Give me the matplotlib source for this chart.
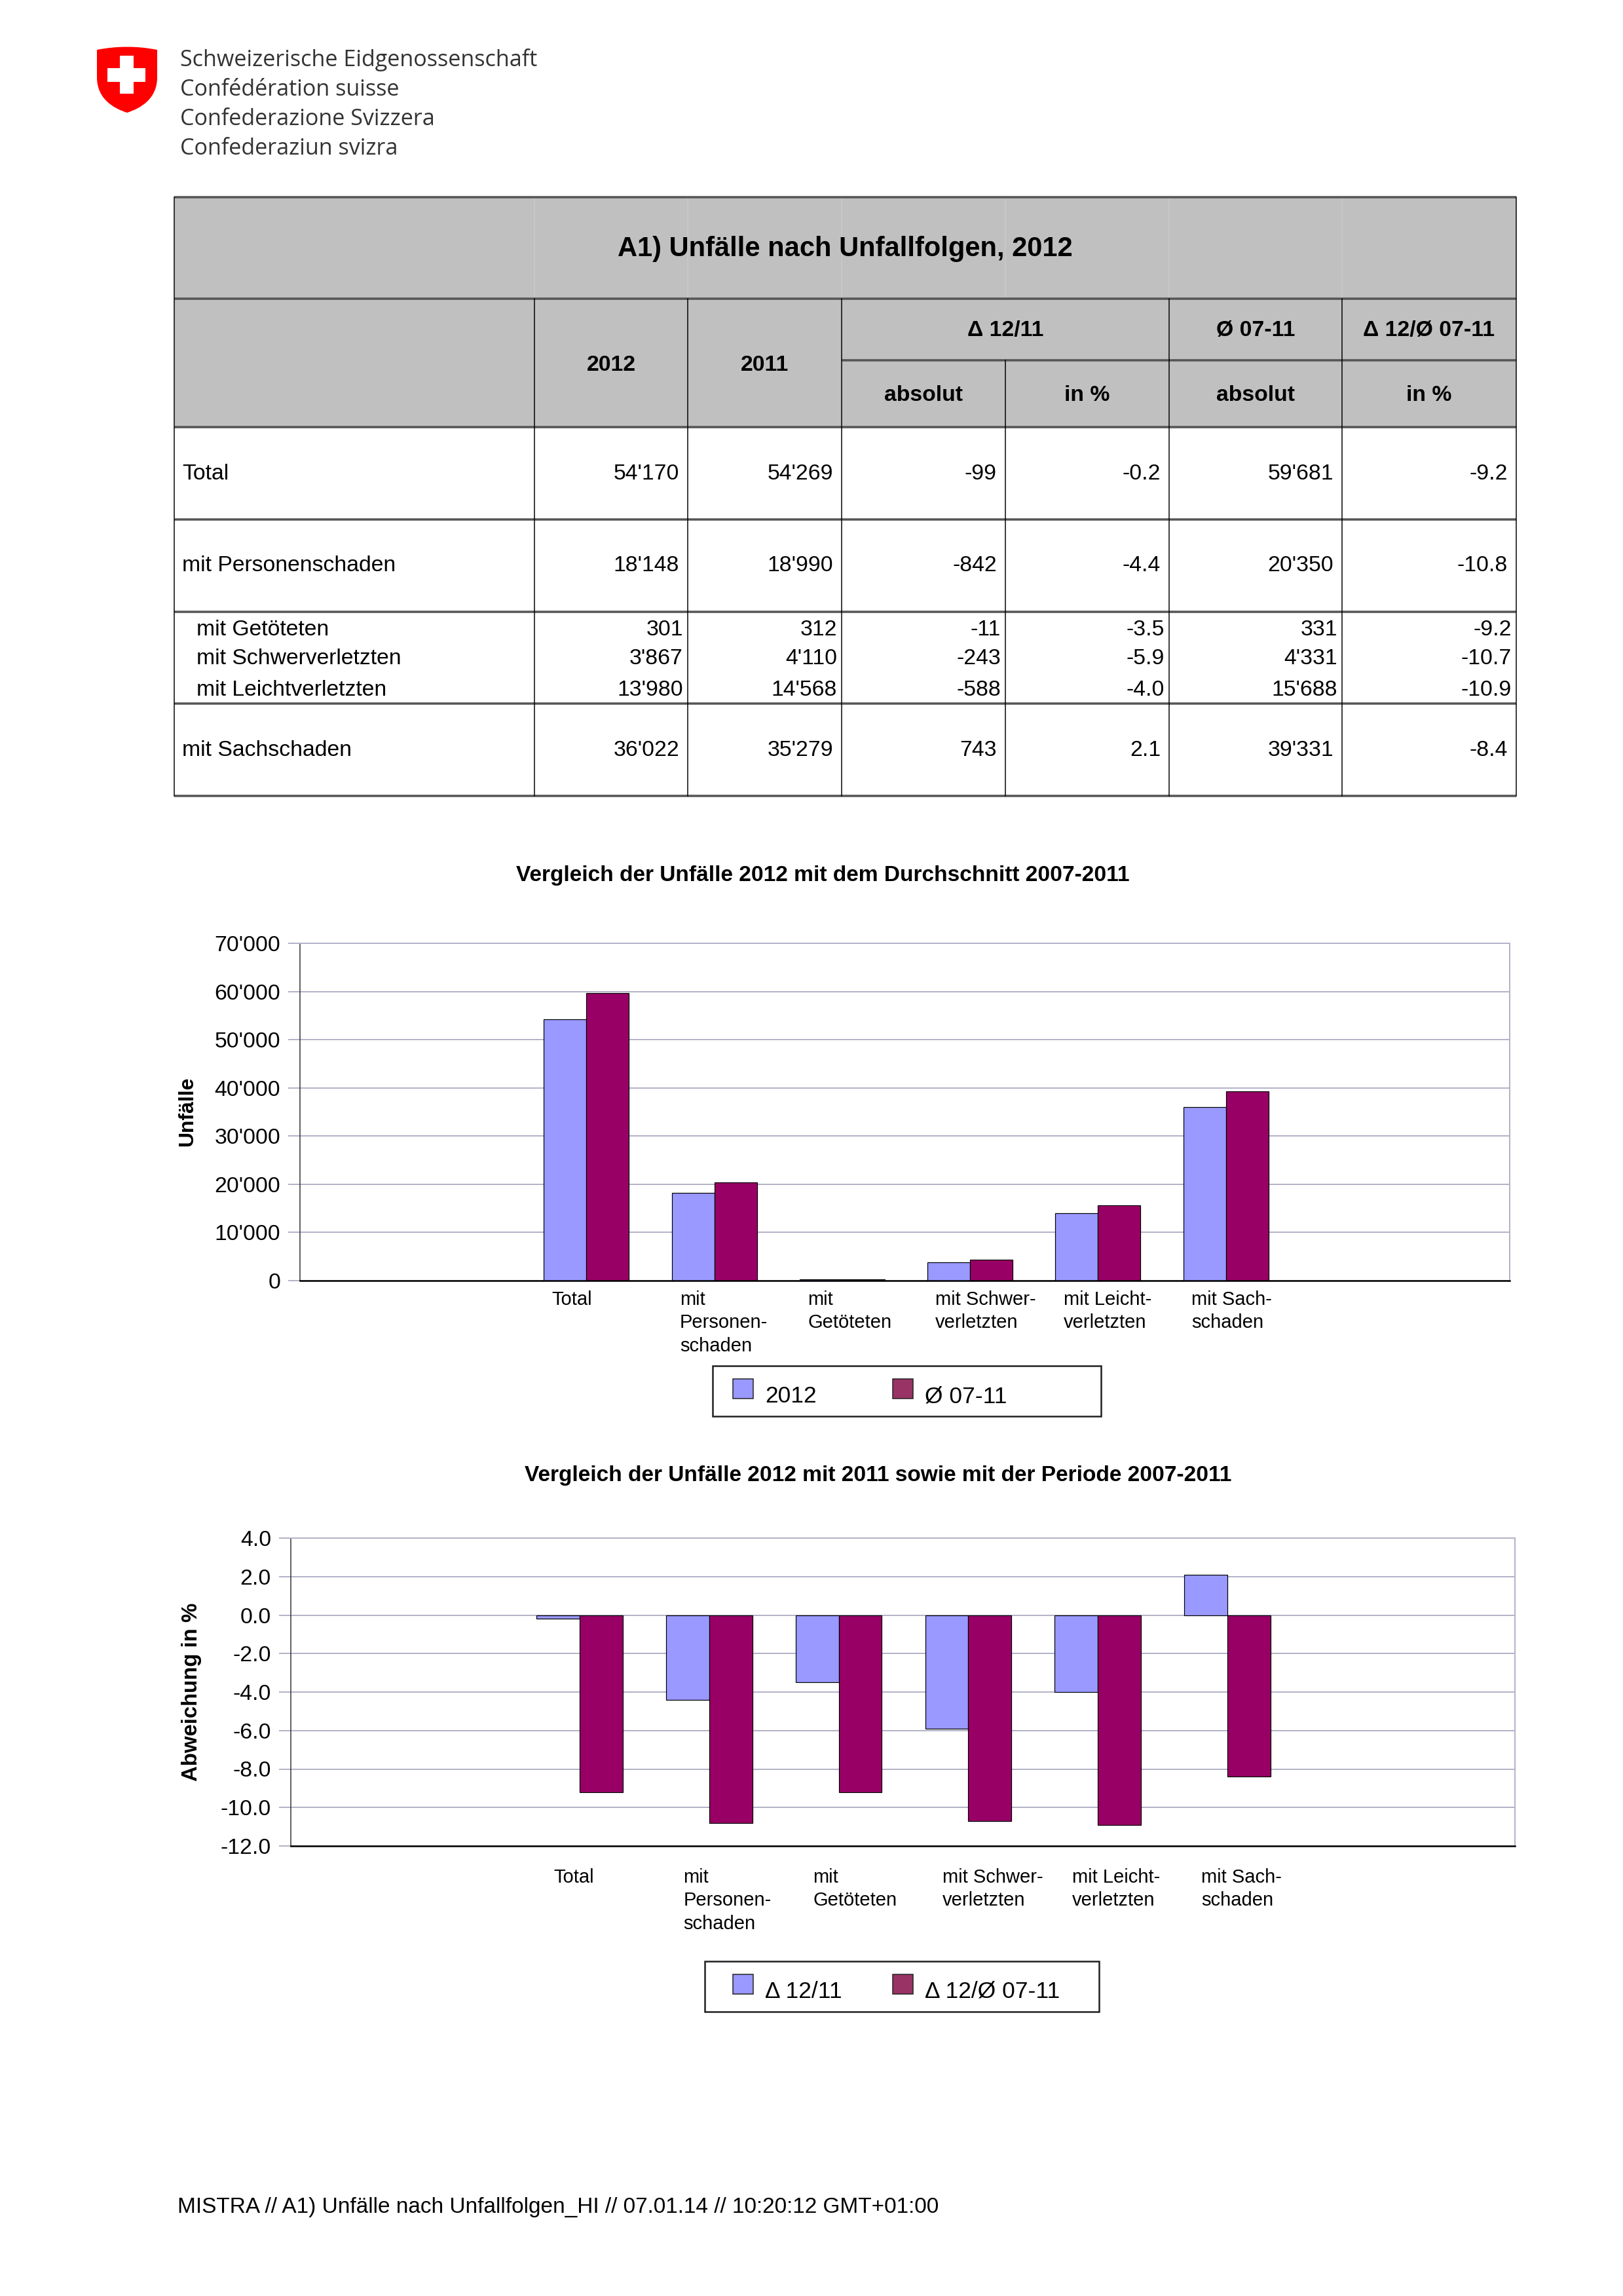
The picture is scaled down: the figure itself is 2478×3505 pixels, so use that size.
import numpy as np
import matplotlib
matplotlib.use('Agg')
import matplotlib.pyplot as plt
from matplotlib.patches import Rectangle, PathPatch
from matplotlib.path import Path
from matplotlib.ticker import FuncFormatter
from matplotlib.transforms import blended_transform_factory

plt.rcParams['font.family'] = ['Liberation Sans', 'DejaVu Sans']

W, H = 2478, 3505
DPI = 300

# --- data ---
row_labels = ['Total', 'mit Personenschaden', 'mit Getöteten',
              'mit Schwerverletzten', 'mit Leichtverletzten', 'mit Sachschaden']
v2012 = [54170, 18148, 301, 3867, 13980, 36022]
v2011 = [54269, 18990, 312, 4110, 14568, 35279]
d_abs = [-99, -842, -11, -243, -588, 743]
d_pct = [-0.2, -4.4, -3.5, -5.9, -4.0, 2.1]
avg0711 = [59681, 20350, 331, 4331, 15688, 39331]
d_avg_pct = [-9.2, -10.8, -9.2, -10.7, -10.9, -8.4]

cat_labels = ['Total', 'mit\nPersonen-\nschaden', 'mit\nGetöteten',
              'mit Schwer-\nverletzten', 'mit Leicht-\nverletzten', 'mit Sach-\nschaden']

logo_lines = ['Schweizerische Eidgenossenschaft', 'Confédération suisse',
              'Confederazione Svizzera', 'Confederaziun svizra']

C_2012 = '#9999FF'
C_AVG = '#990066'
C_AVG_LEG = '#993366'
GRID = '#b3b3c8'
HEAD = '#c0c0c0'
LINE = '#555555'

FS_TXT = 8.1    # table body, tick labels
FS_CAT = 7.0    # category labels
FS_TTL = 8.05   # chart titles


def pt(px):
    return px * 72.0 / DPI


def fig_rect(l, t, r, b):
    return [l / W, 1 - b / H, (r - l) / W, (b - t) / H]


def fmt_int(v):
    s = '{:,}'.format(abs(int(round(v)))).replace(',', "'")
    return ('-' if v < 0 else '') + s


fig = plt.figure(figsize=(W / DPI, H / DPI), dpi=DPI)
fig.patch.set_facecolor('white')

# page axes in pixel coordinates (y down)
ax0 = fig.add_axes([0, 0, 1, 1], zorder=0)
ax0.set_xlim(0, W)
ax0.set_ylim(H, 0)
ax0.axis('off')

# --- logo ---
verts = [(148, 76), (194, 67), (240, 76),
         (240, 118),
         (240, 150), (216, 165), (194, 172),
         (172, 165), (148, 150), (148, 118),
         (148, 76)]
codes = [Path.MOVETO, Path.CURVE3, Path.CURVE3,
         Path.LINETO,
         Path.CURVE4, Path.CURVE4, Path.CURVE4,
         Path.CURVE4, Path.CURVE4, Path.CURVE4,
         Path.CLOSEPOLY]
ax0.add_patch(PathPatch(Path(verts, codes), facecolor='#ff0000', edgecolor='none'))
cx, cy, arm, span = 193, 114, 21, 58
ax0.add_patch(Rectangle((cx - arm / 2, cy - span / 2), arm, span, facecolor='white', edgecolor='none'))
ax0.add_patch(Rectangle((cx - span / 2, cy - arm / 2), span, arm, facecolor='white', edgecolor='none'))

logo_texts = []
for i, s in enumerate(logo_lines):
    t = ax0.text(275, 101 + i * 45, s, fontsize=8, family=['Open Sans', 'DejaVu Sans'],
                 color='#333333', ha='left', va='baseline')
    logo_texts.append(t)
renderer = fig.canvas.get_renderer()
wpx = logo_texts[0].get_window_extent(renderer).width
for t in logo_texts:
    t.set_fontsize(8 * 547.0 / wpx)

# --- table ---
tl, tr = 266, 2315
cols = [266, 816, 1050, 1285, 1535, 1785, 2049, 2315]
ax0.add_patch(Rectangle((tl, 301), tr - tl, 652 - 301, facecolor=HEAD, edgecolor='none'))
for x in cols[1:-1]:
    ax0.plot([x, x], [301, 456], color='#cacaca', lw=pt(1.5))
for y in [301, 456, 652, 793, 934, 1074, 1215]:
    ax0.plot([tl, tr], [y, y], color=LINE, lw=pt(3.5), solid_capstyle='butt')
ax0.plot([cols[3], tr], [550, 550], color=LINE, lw=pt(3.5), solid_capstyle='butt')
for x in [tl, tr]:
    ax0.plot([x, x], [301, 1215], color='black', lw=pt(1.5))
for x in cols[1:-1]:
    y0 = 550 if x == 1535 else 456
    ax0.plot([x, x], [y0, 1215], color='black', lw=pt(1.5))

ax0.text((tl + tr) / 2, 380, 'A1) Unfälle nach Unfallfolgen, 2012', fontsize=10,
         fontweight='bold', ha='center', va='center')
hdr = dict(fontsize=8.1, fontweight='bold', ha='center', va='center')
ax0.text((cols[1] + cols[2]) / 2, 557, '2012', **hdr)
ax0.text((cols[2] + cols[3]) / 2, 557, '2011', **hdr)
ax0.text((cols[3] + cols[5]) / 2, 505, 'Δ 12/11', **hdr)
ax0.text((cols[5] + cols[6]) / 2, 505, 'Ø 07-11', **hdr)
ax0.text((cols[6] + cols[7]) / 2, 505, 'Δ 12/Ø 07-11', **hdr)
for a, b, s in [(3, 4, 'absolut'), (4, 5, 'in %'), (5, 6, 'absolut'), (6, 7, 'in %')]:
    ax0.text((cols[a] + cols[b]) / 2, 603, s, **hdr)

row_y = [723, 864, 961, 1006, 1053, 1145]
sub = [False, False, True, True, True, False]
for i, lab in enumerate(row_labels):
    y = row_y[i]
    pad = 7 if sub[i] else 13
    ax0.text(300 if sub[i] else 278, y, lab, fontsize=FS_TXT, ha='left', va='center')
    vals = [fmt_int(v2012[i]), fmt_int(v2011[i]), fmt_int(d_abs[i]),
            '%.1f' % d_pct[i], fmt_int(avg0711[i]), '%.1f' % d_avg_pct[i]]
    for j, s in enumerate(vals):
        ax0.text(cols[j + 2] - pad, y, s, fontsize=FS_TXT, ha='right', va='center')


# --- charts ---
def style_chart(ax, bottom_px, height_px, labels, label_top_px, offset):
    ax.set_xticks([])
    ax.grid(axis='y', color=GRID, lw=pt(2))
    ax.set_axisbelow(True)
    ax.spines['left'].set_color('#303030')
    ax.spines['left'].set_linewidth(pt(1.5))
    ax.spines['bottom'].set_color('black')
    ax.spines['bottom'].set_linewidth(pt(2.5))
    for s in ['top', 'right']:
        ax.spines[s].set_color(GRID)
        ax.spines[s].set_linewidth(pt(2))
    ax.tick_params(axis='y', length=pt(18), width=pt(2), color=GRID, pad=pt(12),
                   labelsize=FS_TXT)
    trans = blended_transform_factory(ax.transData, ax.transAxes)
    yf = -(label_top_px - bottom_px) / height_px
    for i, s in enumerate(labels):
        ax.text(i - offset, yf, s, transform=trans, fontsize=FS_CAT, ha='left', va='top',
                linespacing=1.33)


x = np.arange(len(cat_labels))
bw = 0.333

ax1 = fig.add_axes(fig_rect(458, 1440, 2305, 1955), zorder=1)
ax1.bar(x - bw / 2, v2012, bw, color=C_2012, edgecolor='black', lw=pt(1.2))
ax1.bar(x + bw / 2, avg0711, bw, color=C_AVG, edgecolor='black', lw=pt(1.2))
ax1.set_xlim(-2.24, 7.22)
ax1.set_ylim(0, 70000)
ax1.set_yticks(np.arange(0, 70001, 10000))
ax1.yaxis.set_major_formatter(FuncFormatter(lambda v, p: fmt_int(v)))
style_chart(ax1, 1955, 515, cat_labels, 1970, 0.27)

ax2 = fig.add_axes(fig_rect(444, 2348, 2313, 2818), zorder=1)
ax2.bar(x - bw / 2, d_pct, bw, color=C_2012, edgecolor='black', lw=pt(1.2))
ax2.bar(x + bw / 2, d_avg_pct, bw, color=C_AVG, edgecolor='black', lw=pt(1.2))
ax2.set_xlim(-2.23, 7.22)
ax2.set_ylim(-12, 4)
ax2.set_yticks(np.arange(-12, 4.1, 2))
ax2.yaxis.set_major_formatter(FuncFormatter(lambda v, p: '%.1f' % v))
style_chart(ax2, 2818, 470, cat_labels, 2852, 0.2)

# titles and axis labels on the page
ax0.text(1256, 1337, 'Vergleich der Unfälle 2012 mit dem Durchschnitt 2007-2011',
         fontsize=FS_TTL, fontweight='bold', ha='center', va='center')
ax0.text(1341, 2252, 'Vergleich der Unfälle 2012 mit 2011 sowie mit der Periode 2007-2011',
         fontsize=FS_TTL, fontweight='bold', ha='center', va='center')
ax0.text(286, 1697, 'Unfälle', rotation=90, fontsize=7.7, fontweight='bold',
         ha='center', va='center')
ax0.text(292, 2583, 'Abweichung in %', rotation=90, fontsize=7.9, fontweight='bold',
         ha='center', va='center')


# legends
def legend_box(l, t, r, b, names, colors):
    ax0.add_patch(Rectangle((l, t), r - l, b - t, facecolor='white', edgecolor='#202020',
                            lw=pt(2.5)))
    for k, (nm, c) in enumerate(zip(names, colors)):
        px = 1119 + k * 244
        ax0.add_patch(Rectangle((px, t + 20), 31, 30, facecolor=c, edgecolor='#202020',
                                lw=pt(1.5)))
        ax0.text(px + 49, t + 56, nm, fontsize=8.5, ha='left', va='baseline')


legend_box(1088, 2085, 1681, 2162, ['2012', 'Ø 07-11'], [C_2012, C_AVG_LEG])
legend_box(1076, 2994, 1678, 3071, ['Δ 12/11', 'Δ 12/Ø 07-11'], [C_2012, C_AVG_LEG])

ax0.text(271, 3378, 'MISTRA // A1) Unfälle nach Unfallfolgen_HI // 07.01.14 // 10:20:12 GMT+01:00',
         fontsize=8.0, ha='left', va='baseline')

fig.savefig('out.png', dpi=DPI)
